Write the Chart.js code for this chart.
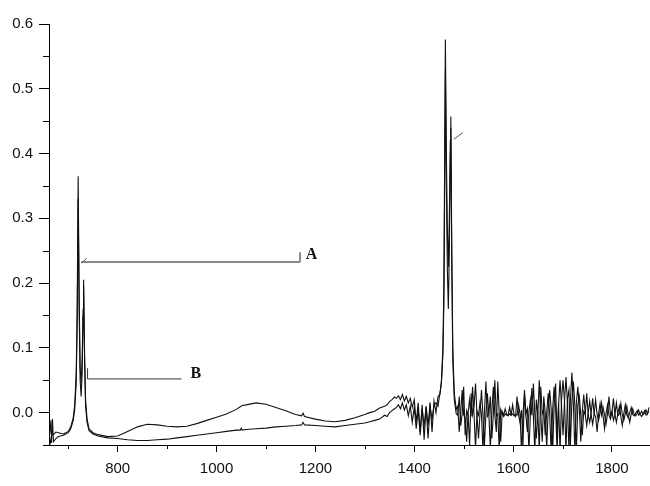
<!DOCTYPE html>
<html>
<head>
<meta charset="utf-8">
<script src="https://cdn.jsdelivr.net/npm/chart.js@4"></script>
<style>
  body { margin: 0; background: #fff; }
  #wrap { width: 650px; height: 486px; }
</style>
</head>
<body>
<div id="wrap"><canvas id="spectrumChart"></canvas></div>
<script>
// wavenumber (cm-1) shared by both spectra
var wavenumber = [
  660, 663, 665, 666, 668, 670, 675, 680, 690, 700, 705, 710, 713, 716, 718, 720, 722, 724, 726, 728,
  730, 731, 733, 735, 738, 742, 750, 760, 780, 800, 820, 840, 860, 880, 900, 920, 940, 960, 980, 1000,
  1020, 1040, 1048, 1050, 1052, 1060, 1080, 1100, 1120, 1140, 1160, 1172, 1175, 1178, 1200, 1220, 1240, 1260, 1280, 1300,
  1310, 1320, 1330, 1340, 1345, 1350, 1355, 1360, 1364, 1368, 1372, 1376, 1380, 1384, 1388, 1392, 1396, 1400, 1404, 1408,
  1412, 1416, 1420, 1424, 1428, 1432, 1436, 1440, 1444, 1448, 1452, 1455, 1458, 1460, 1462, 1463, 1465, 1467, 1469, 1471,
  1473, 1474, 1476, 1478, 1481, 1485,
  1488, 1491, 1494, 1497, 1500, 1503, 1506, 1509, 1512, 1515,
  1518, 1521, 1524, 1527, 1530, 1533, 1536, 1539, 1542, 1545,
  1548, 1551, 1554, 1557, 1560, 1563, 1566, 1569, 1572, 1575,
  1578, 1581, 1584, 1587, 1590, 1593, 1596, 1599, 1602, 1605,
  1608, 1611, 1614, 1617, 1620, 1623, 1626, 1629, 1632, 1635,
  1638, 1641, 1644, 1647, 1650, 1653, 1656, 1659, 1662, 1665,
  1668, 1671, 1674, 1677, 1680, 1683, 1686, 1689, 1692, 1695,
  1698, 1701, 1704, 1707, 1710, 1713, 1716, 1719, 1722, 1725,
  1728, 1731, 1734, 1737, 1740, 1743, 1746, 1749, 1752, 1755,
  1758, 1761, 1764, 1767, 1770, 1773, 1776, 1779, 1782, 1785,
  1788, 1791, 1794, 1797, 1800, 1803, 1806, 1809, 1812, 1815,
  1818, 1821, 1824, 1827, 1830, 1833, 1836, 1839, 1842, 1845,
  1848, 1851, 1854, 1857, 1860, 1863, 1866, 1869, 1872, 1875
];

var spectrumA = [
  -0.045, -0.030, -0.012, -0.035, -0.033, -0.034, -0.030, -0.031, -0.033, -0.029, -0.022, -0.008, 0.012, 0.060, 0.160, 0.365, 0.180, 0.070, 0.046, 0.080,
  0.160, 0.205, 0.090, 0.020, -0.010, -0.025, -0.031, -0.034, -0.037, -0.036, -0.029, -0.022, -0.018, -0.019, -0.021, -0.022, -0.021, -0.017, -0.012, -0.007,
  -0.002, 0.005, 0.009, 0.010, 0.011, 0.012, 0.015, 0.013, 0.008, 0.003, -0.003, -0.005, -0.001, -0.006, -0.010, -0.013, -0.014, -0.012, -0.008, -0.003,
  0.000, 0.002, 0.007, 0.010, 0.012, 0.017, 0.020, 0.024, 0.022, 0.026, 0.020, 0.028, 0.018, 0.025, 0.015, 0.022, 0.008, 0.020, -0.015, 0.015,
  -0.030, 0.012, -0.042, 0.010, -0.020, 0.015, -0.030, 0.018, 0.000, 0.025, 0.028, 0.050, 0.100, 0.200, 0.450, 0.576, 0.400, 0.280, 0.225, 0.300,
  0.420, 0.457, 0.250, 0.100, 0.030, 0.005,
  0.010, -0.030, 0.002, 0.035, -0.004, -0.008, -0.045, 0.000, 0.020, -0.006,
  0.040, -0.003, -0.055, 0.002, -0.004, 0.015, -0.002, -0.058, 0.000, 0.048,
  -0.006, -0.002, 0.025, -0.040, -0.003, 0.050, -0.005, -0.002, -0.058, 0.005,
  -0.003, -0.006, -0.002, -0.004, -0.003, 0.008, -0.004, -0.002, -0.005, -0.003,
  -0.004, 0.012, -0.002, -0.060, -0.003, 0.030, -0.005, -0.030, 0.000, 0.020,
  -0.004, 0.045, -0.003, -0.040, 0.002, -0.060, 0.040, -0.002, 0.005, -0.035,
  0.000, 0.030, -0.002, -0.060, 0.004, 0.040, 0.008, -0.060, 0.012, 0.050,
  0.010, -0.035, 0.018, 0.055, 0.015, -0.060, 0.020, 0.062, 0.012, -0.060,
  0.015, 0.040, 0.006, -0.045, 0.002, 0.028, -0.003, -0.020, 0.000, 0.018,
  -0.004, -0.018, -0.002, 0.020, -0.003, -0.012, 0.000, 0.015, -0.005, -0.025,
  -0.002, 0.012, -0.004, -0.010, 0.000, 0.022, -0.003, -0.015, -0.001, 0.010,
  -0.006, -0.020, -0.002, 0.012, -0.003, -0.008, 0.000, 0.008, -0.003, -0.005,
  -0.001, 0.003, -0.004, -0.002, 0.002, -0.003, -0.001, 0.004, -0.002, 0.008
];

var spectrumB = [
  -0.045, -0.048, -0.040, -0.047, -0.010, -0.045, -0.040, -0.037, -0.035, -0.031, -0.025, -0.012, 0.005, 0.045, 0.130, 0.330, 0.160, 0.050, 0.025, 0.060,
  0.150, 0.195, 0.080, 0.010, -0.015, -0.028, -0.033, -0.036, -0.039, -0.040, -0.042, -0.043, -0.043, -0.042, -0.041, -0.039, -0.037, -0.035, -0.033, -0.031,
  -0.029, -0.027, -0.027, -0.024, -0.027, -0.026, -0.025, -0.024, -0.022, -0.021, -0.020, -0.019, -0.015, -0.019, -0.020, -0.021, -0.022, -0.020, -0.018, -0.016,
  -0.014, -0.012, -0.010, -0.004, -0.006, 0.000, 0.003, 0.006, 0.008, 0.012, 0.006, 0.015, 0.004, 0.012, -0.005, 0.010, -0.015, 0.008, -0.025, 0.005,
  -0.035, 0.006, -0.020, 0.008, -0.040, 0.010, -0.010, 0.012, 0.015, 0.010, 0.030, 0.045, 0.090, 0.170, 0.400, 0.530, 0.350, 0.220, 0.160, 0.250,
  0.400, 0.440, 0.220, 0.080, 0.020, -0.002,
  -0.004, 0.025, -0.020, -0.002, 0.040, -0.035, 0.003, -0.004, -0.050, 0.030,
  -0.003, 0.010, 0.045, -0.004, -0.040, -0.002, 0.035, -0.003, -0.050, -0.002,
  0.030, -0.004, -0.055, 0.002, 0.040, -0.003, -0.030, 0.048, -0.002, -0.045,
  0.002, -0.004, 0.006, -0.003, -0.005, -0.002, -0.004, 0.012, -0.003, -0.006,
  0.025, -0.003, -0.015, 0.004, -0.050, 0.035, -0.002, 0.006, -0.060, -0.003,
  0.038, -0.005, -0.060, 0.020, -0.003, 0.050, -0.004, -0.045, 0.025, 0.000,
  -0.055, 0.004, 0.035, 0.006, -0.060, 0.010, 0.045, -0.040, 0.015, -0.060,
  0.020, 0.050, 0.018, -0.060, 0.022, 0.035, -0.050, 0.018, 0.048, 0.010,
  -0.060, 0.012, 0.025, -0.004, -0.035, 0.002, -0.003, 0.030, -0.004, -0.015,
  0.000, 0.022, -0.003, -0.006, -0.030, -0.002, 0.014, -0.004, 0.008, -0.003,
  -0.018, -0.002, 0.025, -0.004, 0.002, -0.012, -0.003, 0.015, -0.005, -0.002,
  0.014, -0.003, -0.012, -0.002, 0.010, -0.004, -0.015, -0.002, 0.006, -0.003,
  -0.005, -0.001, 0.004, -0.003, -0.006, -0.002, 0.003, -0.004, -0.001, 0.002
];

// axis ticks
var xTicks = [800, 1000, 1200, 1400, 1600, 1800];
var xMinorTicks = [700, 900, 1100, 1300, 1500, 1700];
var yTicks = [0.0, 0.1, 0.2, 0.3, 0.4, 0.5, 0.6];
var yMinorTicks = [-0.05, 0.05, 0.15, 0.25, 0.35, 0.45, 0.55];

// callout brackets, in data units
var callouts = [
  { label: 'A', x1: 726, x2: 1169, y: 0.2325, tickY: 0.2475, end: 'right', textX: 1192, textY: 0.244, color: '#8a8a8a', width: 2 },
  { label: 'B', x1: 739, x2: 929, y: 0.052, tickY: 0.0685, end: 'left', textX: 958, textY: 0.06, color: '#333', width: 1 }
];
var pointerMarks = [
  { x1: 727, y1: 0.231, x2: 737, y2: 0.238 },
  { x1: 1480, y1: 0.422, x2: 1498, y2: 0.432 }
];

function toPoints(ys) {
  return ys.map(function (v, i) { return { x: wavenumber[i], y: v }; });
}

var minorTicks = {
  id: 'minorTicks',
  afterDraw: function (chart) {
    var ctx = chart.ctx, xs = chart.scales.x, ys = chart.scales.y, area = chart.chartArea;
    ctx.save();
    ctx.strokeStyle = '#000';
    ctx.lineWidth = 1;
    ctx.beginPath();
    xMinorTicks.forEach(function (v) {
      var px = Math.round(xs.getPixelForValue(v)) + 0.5;
      ctx.moveTo(px, area.bottom);
      ctx.lineTo(px, area.bottom + 4);
    });
    yMinorTicks.forEach(function (v) {
      var py = Math.round(ys.getPixelForValue(v)) + 0.5;
      ctx.moveTo(area.left - 6, py);
      ctx.lineTo(area.left, py);
    });
    ctx.stroke();
    ctx.restore();
  }
};

var annotate = {
  id: 'annotate',
  afterDatasetsDraw: function (chart) {
    var ctx = chart.ctx, xs = chart.scales.x, ys = chart.scales.y;
    ctx.save();
    callouts.forEach(function (c) {
      var x1 = xs.getPixelForValue(c.x1), x2 = xs.getPixelForValue(c.x2);
      var py = ys.getPixelForValue(c.y), ty = ys.getPixelForValue(c.tickY);
      var ex = c.end === 'right' ? x2 : x1;
      ctx.strokeStyle = c.color;
      ctx.lineWidth = c.width;
      ctx.beginPath();
      ctx.moveTo(x1, py);
      ctx.lineTo(x2, py);
      ctx.moveTo(ex, py);
      ctx.lineTo(ex, ty);
      ctx.stroke();
      ctx.fillStyle = '#111';
      ctx.font = 'bold 16px "Liberation Serif", "Times New Roman", serif';
      ctx.textAlign = 'center';
      ctx.textBaseline = 'middle';
      ctx.fillText(c.label, xs.getPixelForValue(c.textX), ys.getPixelForValue(c.textY));
    });
    ctx.strokeStyle = '#555';
    ctx.lineWidth = 1;
    ctx.beginPath();
    pointerMarks.forEach(function (m) {
      ctx.moveTo(xs.getPixelForValue(m.x1), ys.getPixelForValue(m.y1));
      ctx.lineTo(xs.getPixelForValue(m.x2), ys.getPixelForValue(m.y2));
    });
    ctx.stroke();
    ctx.restore();
  }
};

var ctx = document.getElementById('spectrumChart').getContext('2d');
var spectrumChart = new Chart(ctx, {
  type: 'line',
  data: {
    datasets: [{
      label: 'A',
      data: toPoints(spectrumA),
      borderColor: '#111',
      borderWidth: 1.1,
      pointRadius: 0,
      tension: 0
    }, {
      label: 'B',
      data: toPoints(spectrumB),
      borderColor: '#111',
      borderWidth: 1.1,
      pointRadius: 0,
      tension: 0
    }]
  },
  options: {
    responsive: true,
    maintainAspectRatio: false,
    animation: false,
    layout: { padding: { top: 24, right: 0, left: 0, bottom: 0 } },
    plugins: {
      legend: { display: false },
      tooltip: { enabled: false }
    },
    scales: {
      x: {
        type: 'linear',
        min: 661,
        max: 1877,
        afterBuildTicks: function (scale) {
          scale.ticks = xTicks.map(function (v) { return { value: v }; });
        },
        afterFit: function (scale) { scale.height = 41; },
        grid: { drawOnChartArea: false, color: '#000', tickLength: 7 },
        border: { color: '#000', width: 1 },
        ticks: {
          color: '#111',
          padding: 8,
          maxRotation: 0,
          font: { family: '"Liberation Sans", Arial, sans-serif', size: 15 },
          callback: function (v) { return v; }
        }
      },
      y: {
        min: -0.05,
        max: 0.6,
        afterBuildTicks: function (scale) {
          scale.ticks = yTicks.map(function (v) { return { value: v }; });
        },
        afterFit: function (scale) { scale.width = 49; },
        grid: { drawOnChartArea: false, color: '#000', tickLength: 10 },
        border: { color: '#000', width: 1 },
        ticks: {
          color: '#111',
          padding: 6,
          font: { family: '"Liberation Sans", Arial, sans-serif', size: 15 },
          callback: function (v) { return v.toFixed(1); }
        }
      }
    }
  },
  plugins: [minorTicks, annotate]
});
</script>
</body>
</html>
